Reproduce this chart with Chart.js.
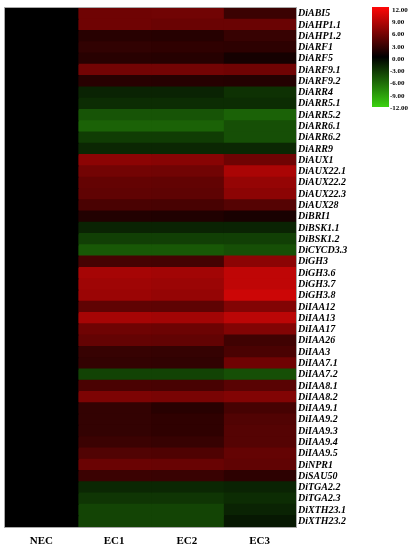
<!DOCTYPE html>
<html>
<head>
<meta charset="utf-8">
<script src="https://cdn.jsdelivr.net/npm/chart.js@4.4.0/dist/chart.umd.min.js"></script>
<style>
  html, body { margin: 0; padding: 0; background: #fff; }
  #wrap { width: 415px; height: 550px; }
</style>
</head>
<body>
<div id="wrap"><canvas id="heatmap"></canvas></div>
<script>
const genes = ['DiABI5','DiAHP1.1','DiAHP1.2','DiARF1','DiARF5','DiARF9.1','DiARF9.2','DiARR4','DiARR5.1','DiARR5.2',
  'DiARR6.1','DiARR6.2','DiARR9','DiAUX1','DiAUX22.1','DiAUX22.2','DiAUX22.3','DiAUX28','DiBRI1','DiBSK1.1',
  'DiBSK1.2','DiCYCD3.3','DiGH3','DiGH3.6','DiGH3.7','DiGH3.8','DiIAA12','DiIAA13','DiIAA17','DiIAA26',
  'DiIAA3','DiIAA7.1','DiIAA7.2','DiIAA8.1','DiIAA8.2','DiIAA9.1','DiIAA9.2','DiIAA9.3','DiIAA9.4','DiIAA9.5',
  'DiNPR1','DiSAU50','DiTGA2.2','DiTGA2.3','DiXTH23.1','DiXTH23.2'];
const samples = ['NEC', 'EC1', 'EC2', 'EC3'];

// log2 fold change vs NEC
const nec = [0,0,0,0,0,0,0,0,0,0, 0,0,0,0,0,0,0,0,0,0, 0,0,0,0,0,0,0,0,0,0, 0,0,0,0,0,0,0,0,0,0, 0,0,0,0,0,0];
const ec1 = [5.2,5.2,1.9,2.3,1.9,5.4,1.9,-2.0,-2.5,-4.8,
  -5.6,-3.4,-2.2,6.6,5.4,4.7,4.5,3.5,1.6,-2.0,
  -3.6,-5.0,3.3,7.8,7.5,7.3,4.5,7.8,5.2,4.7,
  2.6,2.4,-3.8,3.5,5.9,2.4,2.4,2.4,2.8,3.8,
  5.0,2.8,-2.2,-3.0,-3.9,-3.9];
const ec2 = [5.3,5.0,1.8,2.2,1.8,5.4,1.8,-2.0,-2.5,-4.8,
  -5.6,-3.4,-2.2,6.4,5.3,4.6,4.4,3.4,1.5,-2.0,
  -3.6,-5.0,3.2,7.6,7.3,7.0,4.4,7.6,5.1,4.6,
  2.5,2.3,-3.8,3.4,5.7,1.9,2.2,2.2,2.6,3.7,
  4.9,2.7,-2.2,-3.0,-3.9,-3.9];
const ec3 = [2.8,5.0,2.6,2.1,1.0,5.2,1.7,-2.8,-2.5,-5.6,
  -4.5,-4.5,-2.2,5.2,8.0,7.0,6.6,4.0,1.2,-2.0,
  -3.6,-4.5,6.6,9.0,9.0,9.6,6.1,8.8,6.1,3.0,
  3.5,5.2,-4.5,4.2,6.1,3.3,3.8,4.0,4.0,4.7,
  4.5,2.1,-2.0,-2.5,-2.0,-1.4];
const legendTicks = [12, 9, 6, 3, 0, -3, -6, -9, -12];

const series = [nec, ec1, ec2, ec3];
const serif = "'Liberation Serif', 'Times New Roman', serif";

// green - black - red scale, -12 .. 12
function heatColor(v) {
  const t = Math.max(-1, Math.min(1, v / 12));
  if (t >= 0) {
    return 'rgb(' + Math.round(255 * t) + ',' + Math.round(8 * t) + ',' + Math.round(8 * t) + ')';
  }
  const a = -t;
  return 'rgb(' + Math.round(58 * a) + ',' + Math.round(210 * a) + ',' + Math.round(15 * a) + ')';
}

// colour key drawn at the top right
const colorKey = {
  id: 'colorKey',
  afterDraw(chart) {
    const ctx = chart.ctx;
    const x = 372, w = 17, top = 7, bottom = 107;
    const g = ctx.createLinearGradient(0, top, 0, bottom);
    g.addColorStop(0, heatColor(12));
    g.addColorStop(0.5, heatColor(0));
    g.addColorStop(1, heatColor(-12));
    ctx.save();
    ctx.fillStyle = g;
    ctx.fillRect(x, top, w, bottom - top);
    ctx.fillStyle = '#000';
    ctx.font = 'bold 7px ' + serif;
    ctx.textBaseline = 'middle';
    ctx.textAlign = 'left';
    legendTicks.forEach((t, i) => {
      const y = 10 + i * 98 / (legendTicks.length - 1);
      ctx.fillText(t.toFixed(2), t < 0 ? 390 : 392, y);
    });
    ctx.restore();
  }
};

// thin frame round the cells
const frame = {
  id: 'frame',
  afterDatasetsDraw(chart) {
    const a = chart.chartArea, ctx = chart.ctx;
    ctx.save();
    ctx.strokeStyle = '#a8a8a8';
    ctx.lineWidth = 1;
    ctx.strokeRect(a.left - 0.5, a.top - 0.5, a.right - a.left + 1, a.bottom - a.top + 1);
    ctx.restore();
  }
};

new Chart(document.getElementById('heatmap'), {
  type: 'bar',
  data: {
    labels: genes,
    datasets: samples.map((s, i) => ({
      label: s,
      data: series[i].map(() => [i, i + 1]),
      backgroundColor: series[i].map(heatColor),
      borderWidth: 0,
      inflateAmount: 0.6,
      grouped: false,
      barPercentage: 1,
      categoryPercentage: 1
    }))
  },
  options: {
    indexAxis: 'y',
    responsive: true,
    maintainAspectRatio: false,
    animation: false,
    layout: { padding: { left: 5, top: 5, right: 0, bottom: 0 } },
    plugins: { legend: { display: false }, tooltip: { enabled: false } },
    scales: {
      x: {
        type: 'linear',
        min: 0,
        max: 4,
        afterBuildTicks: (s) => { s.ticks = samples.map((n, i) => ({ value: i + 0.5 })); },
        afterFit: (s) => { s.height = 23; },
        grid: { display: false, drawTicks: false },
        border: { display: false },
        ticks: {
          padding: 8,
          color: '#000',
          font: { family: serif, size: 11, weight: 'bold' },
          callback: (v) => samples[Math.floor(v)]
        }
      },
      y: {
        type: 'category',
        position: 'right',
        afterFit: (s) => { s.width = 119; },
        grid: { display: false, drawTicks: false },
        border: { display: false },
        ticks: {
          autoSkip: false,
          padding: 2,
          color: '#000',
          font: { family: serif, size: 10, weight: 'bold', style: 'italic' }
        }
      }
    }
  },
  plugins: [colorKey, frame]
});
</script>
</body>
</html>
